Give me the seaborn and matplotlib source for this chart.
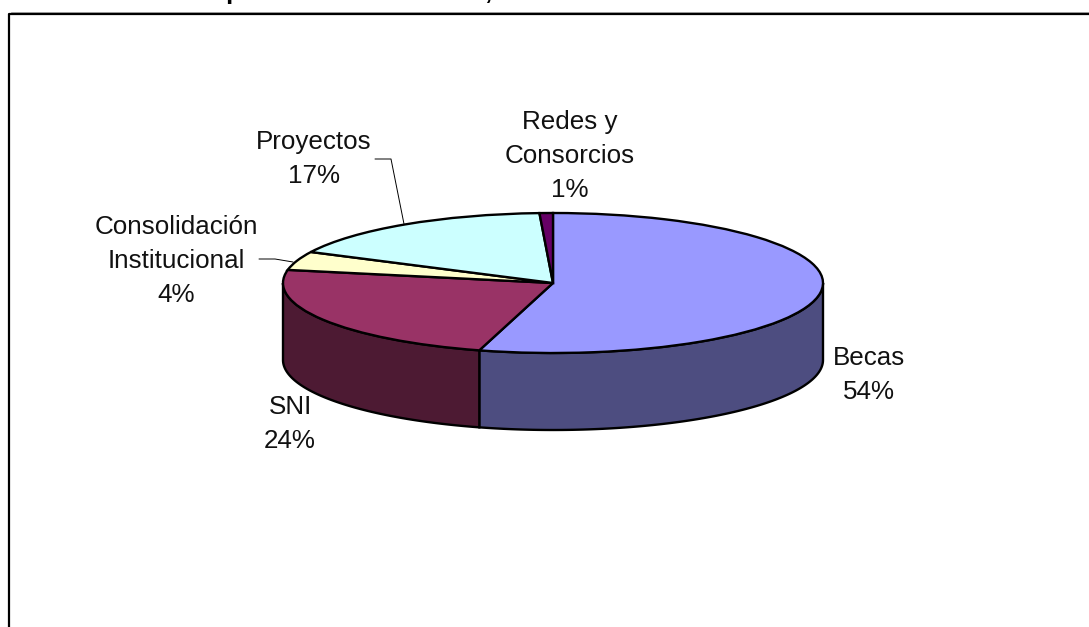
import numpy as np
import seaborn as sns

import matplotlib
matplotlib.use('Agg')
import matplotlib.pyplot as plt

sns.set_theme(style="white")
plt.rcParams['font.family'] = ['Liberation Sans', 'DejaVu Sans']

categories = ["Becas", "SNI", "Consolidación\nInstitucional", "Proyectos", "Redes y\nConsorcios"]
shares = [54.4, 23.6, 4.3, 16.9, 0.8]
top_colors = ["#9999FF", "#993366", "#FFFFCC", "#CCFFFF", "#660066"]
side_colors = ["#4D4D80", "#4D1A33"]

W, H = 1089, 627
CX, CY, RX, RY, DEPTH = 553, 283, 270, 70, 77

fig = plt.figure(figsize=(W / 100, H / 100), dpi=100)
ax = fig.add_axes([0, 0, 1, 1])

# pie first, then squash it by giving up the equal aspect
wedges, _ = ax.pie(
    shares,
    colors=top_colors,
    startangle=90,
    counterclock=False,
    wedgeprops=dict(edgecolor="black", linewidth=1.7, zorder=3),
)
ax.set_aspect("auto")
ax.set_xlim(-CX / RX, (W - CX) / RX)
ax.set_ylim((CY - H) / RY, CY / RY)


def px(x, y):
    return (x - CX) / RX, (CY - y) / RY


# side wall of the two front slices
depth = DEPTH / RY
edges = np.cumsum([0] + shares) / 100 * 360
for i, color in enumerate(side_colors):
    a0 = max(edges[i], 90)
    a1 = min(edges[i + 1], 270)
    t = np.radians(np.linspace(a0, a1, 120))
    x, y = np.sin(t), np.cos(t)
    ax.fill(
        np.r_[x, x[::-1]], np.r_[y, y[::-1] - depth],
        facecolor=color, edgecolor="black", linewidth=1.7, zorder=2,
    )

# labels
for name, share, (lx, ly) in zip(
    categories, shares,
    [(869, 375), (290, 424), (176, 261), (314, 159), (570, 156)],
):
    ax.text(*px(lx, ly), f"{name}\n{share:.0f}%", ha="center", va="center",
            fontsize=18.7, color="#111111", linespacing=1.53, zorder=5)

# leader lines
ax.plot(*zip(px(375, 159), px(391, 159), px(404, 224)), color="black", lw=0.7, zorder=4)
ax.plot(*zip(px(259, 259), px(275, 259), px(293, 262)), color="black", lw=0.7, zorder=4)

# chart frame, only top and left are inside the crop
ax.plot(*zip(px(9.3, H), px(9.3, 14), px(W, 14)), color="black", lw=1.6, zorder=4)
ax.plot(*zip(px(11, 12.5), px(W, 12.5)), color="#aaaaaa", lw=0.7, zorder=1)

# title is cut by the crop, only descenders remain
ax.text(*px(233, -1), "p", ha="center", va="baseline", fontsize=18.7, fontweight="bold", color="black")
ax.text(*px(488, -1), ",", ha="center", va="baseline", fontsize=18.7, fontweight="bold", color="black")

ax.set_axis_off()
fig.savefig("out.png", dpi=100)
